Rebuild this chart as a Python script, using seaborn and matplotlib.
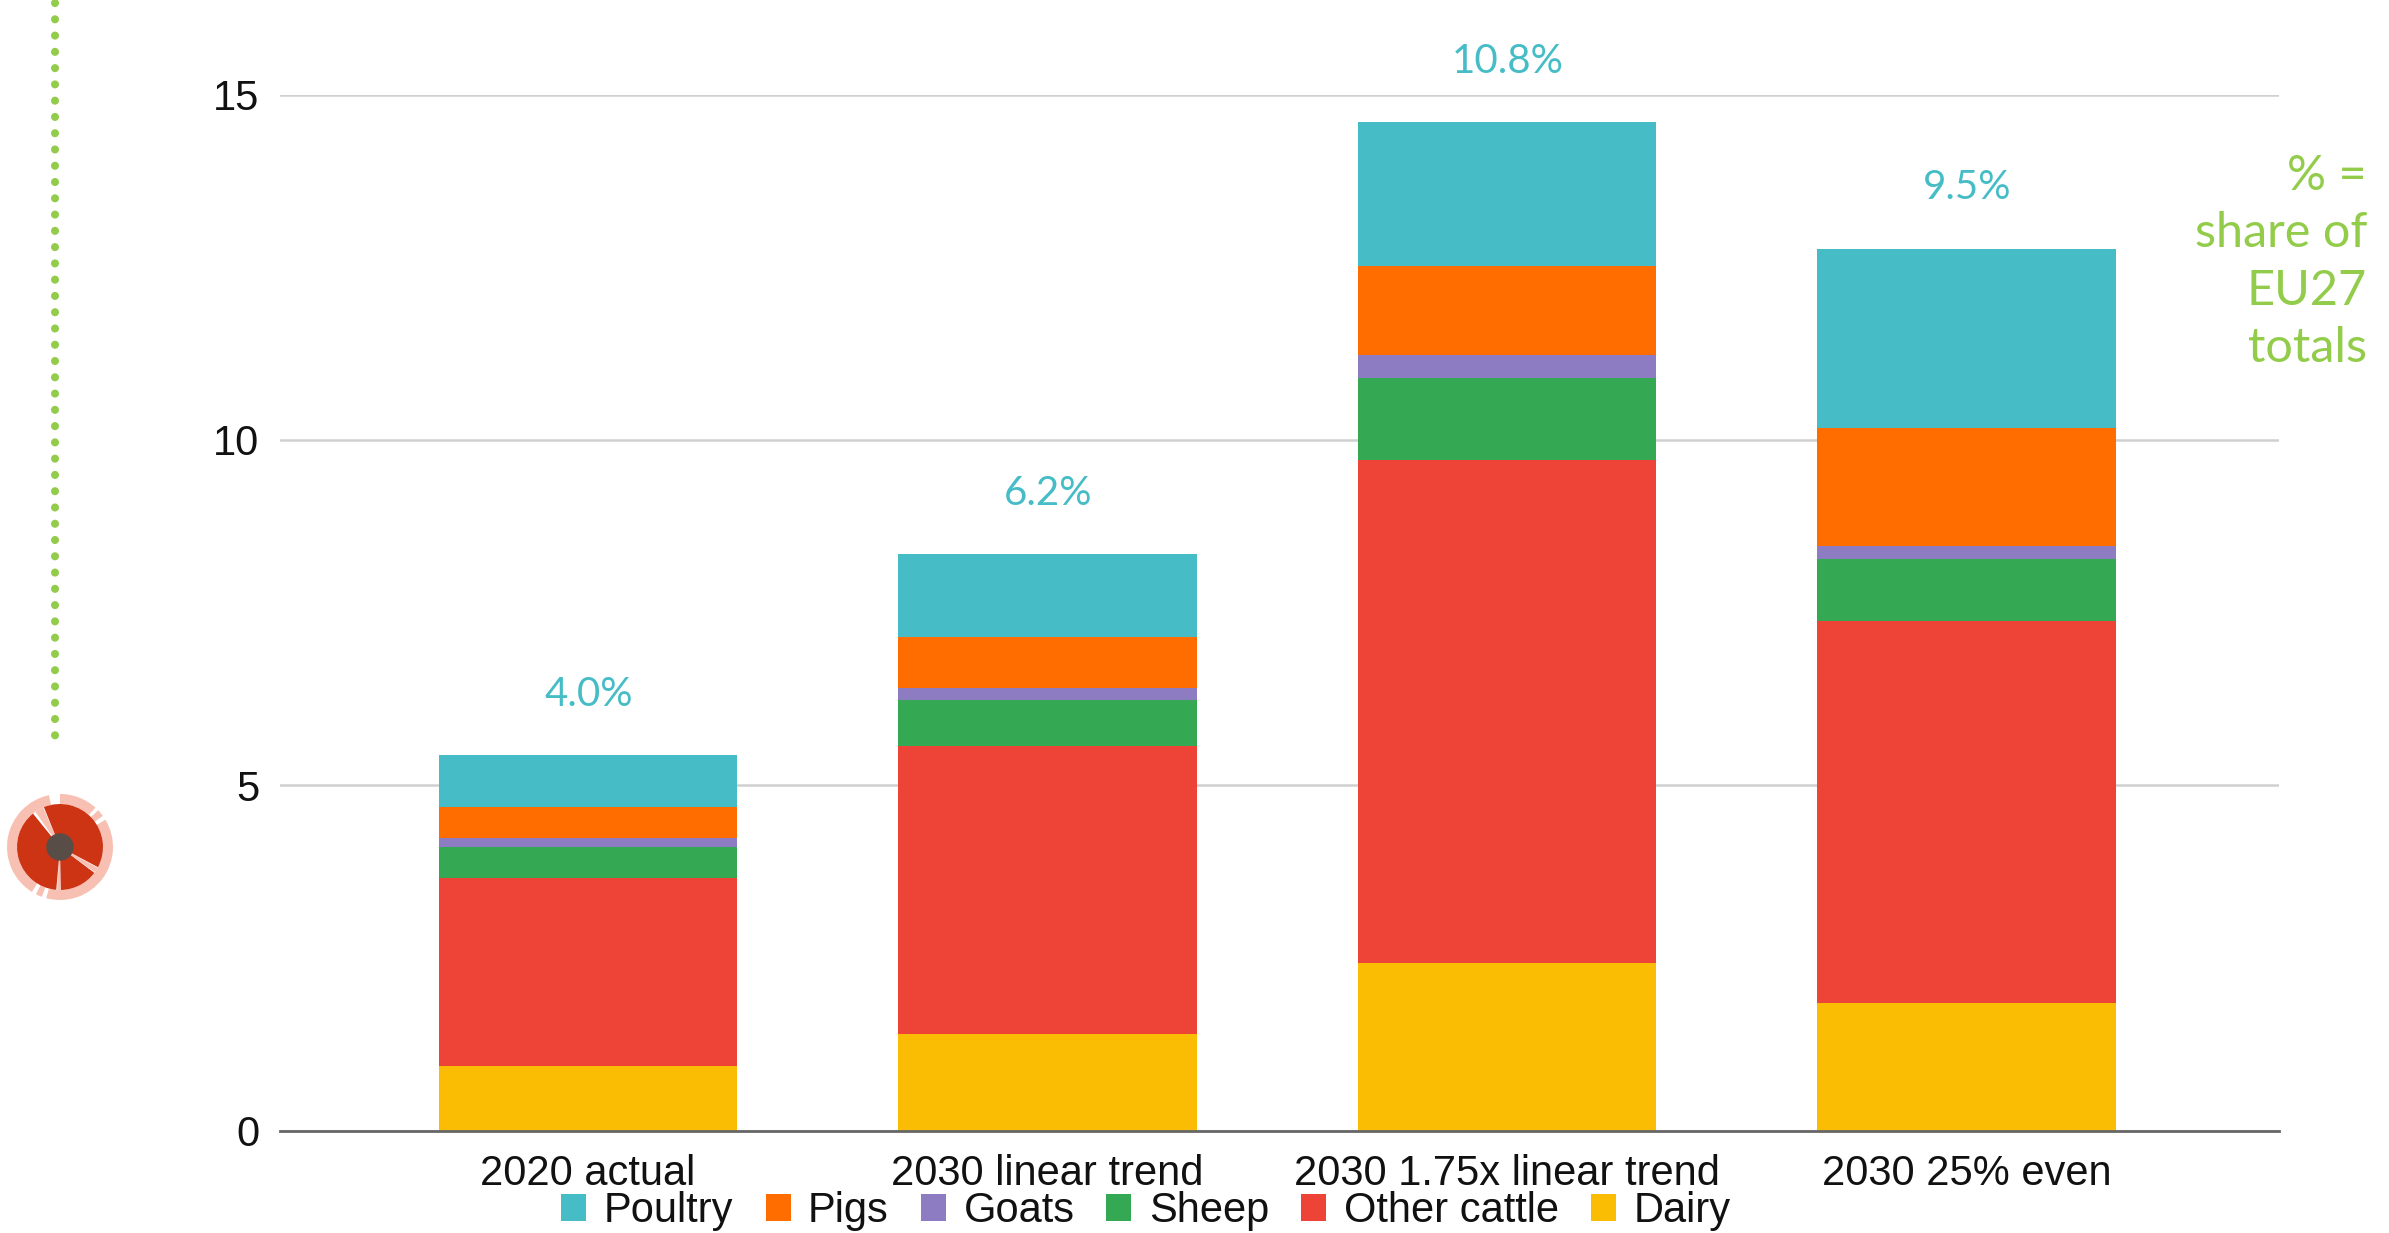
import matplotlib
matplotlib.use("Agg")
import matplotlib.pyplot as plt
from matplotlib.patches import Wedge, Circle, Patch
from matplotlib.lines import Line2D
import seaborn as sb

categories = ["2020 actual", "2030 linear trend", "2030 1.75x linear trend", "2030 25% even"]
dairy = [0.93, 1.39, 2.43, 1.85]
other_cattle = [2.73, 4.17, 7.28, 5.52]
sheep = [0.44, 0.68, 1.19, 0.90]
goats = [0.14, 0.16, 0.33, 0.20]
pigs = [0.44, 0.75, 1.28, 1.70]
poultry = [0.75, 1.19, 2.09, 2.60]
shares = ["4.0%", "6.2%", "10.8%", "9.5%"]
yticks = [0, 5, 10, 15]

series = [("Dairy", dairy, "#FBBC04"), ("Other cattle", other_cattle, "#EE4437"),
          ("Sheep", sheep, "#34A853"), ("Goats", goats, "#8E7CC3"),
          ("Pigs", pigs, "#FF6D01"), ("Poultry", poultry, "#46BDC6")]

W, H = 2389, 1233
sb.set_style("white")
plt.rcParams["font.family"] = ["Liberation Sans", "DejaVu Sans"]

fig = plt.figure(figsize=(W / 100, H / 100), dpi=100)
ax = fig.add_axes([280 / W, (H - 1130.5) / H, 1999 / W, 1036 / H])

bottom = [0, 0, 0, 0]
for name, vals, col in series:
    sb.barplot(x=categories, y=vals, bottom=bottom, color=col, width=0.65,
               saturation=1, linewidth=0, ax=ax, zorder=3)
    bottom = [b + v for b, v in zip(bottom, vals)]

ax.set_xlim(-0.67, 3.68)
ax.set_ylim(0, 15)
ax.set_yticks(yticks)
ax.grid(axis="y", color="#D0D0D0", lw=1.8, zorder=0)
ax.set_axisbelow(True)
sb.despine(ax=ax, left=True)
ax.spines["bottom"].set_color("#666666")
ax.spines["bottom"].set_linewidth(2)
ax.spines["bottom"].set_zorder(4)
ax.tick_params(axis="both", length=0, labelsize=30, labelcolor="#111111")
ax.tick_params(axis="x", pad=17)
ax.tick_params(axis="y", pad=15)

# share labels sit a fixed distance above each bar
for i, s in enumerate(shares):
    ax.annotate(s, (i, bottom[i]), xytext=(0.5, 44), textcoords="offset points",
                ha="center", va="center", fontsize=29, color="#46BDC6",
                family="Lato", annotation_clip=False)

handles = [Patch(facecolor=c, label=n, lw=0) for n, v, c in reversed(series)]
fig.legend(handles=handles, loc="center", bbox_to_anchor=(1146 / W, (H - 1211) / H),
           ncol=6, frameon=False, fontsize=30, handlelength=0.6, handleheight=0.6,
           handletextpad=0.42, columnspacing=0.77, borderpad=0, labelcolor="#111111")

fig.text(2367 / W, (H - 262) / H, "% =\nshare of\nEU27\ntotals", ha="right", va="center",
         fontsize=35, color="#92CC4A", family="Lato", linespacing=1.37)

# overlay in pixel coordinates for the dotted rule and the little icon
deco = fig.add_axes([0, 0, 1, 1], zorder=5)
deco.set_xlim(0, W)
deco.set_ylim(0, H)
deco.axis("off")
deco.add_line(Line2D([55, 55], [H - 3, H - 750], color="#92CC4A", lw=5.8,
                     linestyle=(0, (0.01, 2.01)), dash_capstyle="round"))

cx, cy = 60, H - 847
for a, b in [(48, 90), (36, 44), (-105, 31), (243, 250), (102, 238)]:
    deco.add_patch(Wedge((cx, cy), 53, a, b, width=10, color="#F7C0B2", lw=0))
for a, b in [(113, 125), (266, 270), (324, 331)]:
    deco.add_patch(Wedge((cx, cy), 43, a, b, color="#F7C0B2", lw=0))
for a, b in [(-28, 112), (129, 265), (271, 323)]:
    deco.add_patch(Wedge((cx, cy), 43, a, b, color="#CC3414", lw=0))
deco.add_patch(Circle((cx, cy), 13.7, color="#594D47", lw=0))

fig.savefig("out.png", dpi=100)
plt.close()
